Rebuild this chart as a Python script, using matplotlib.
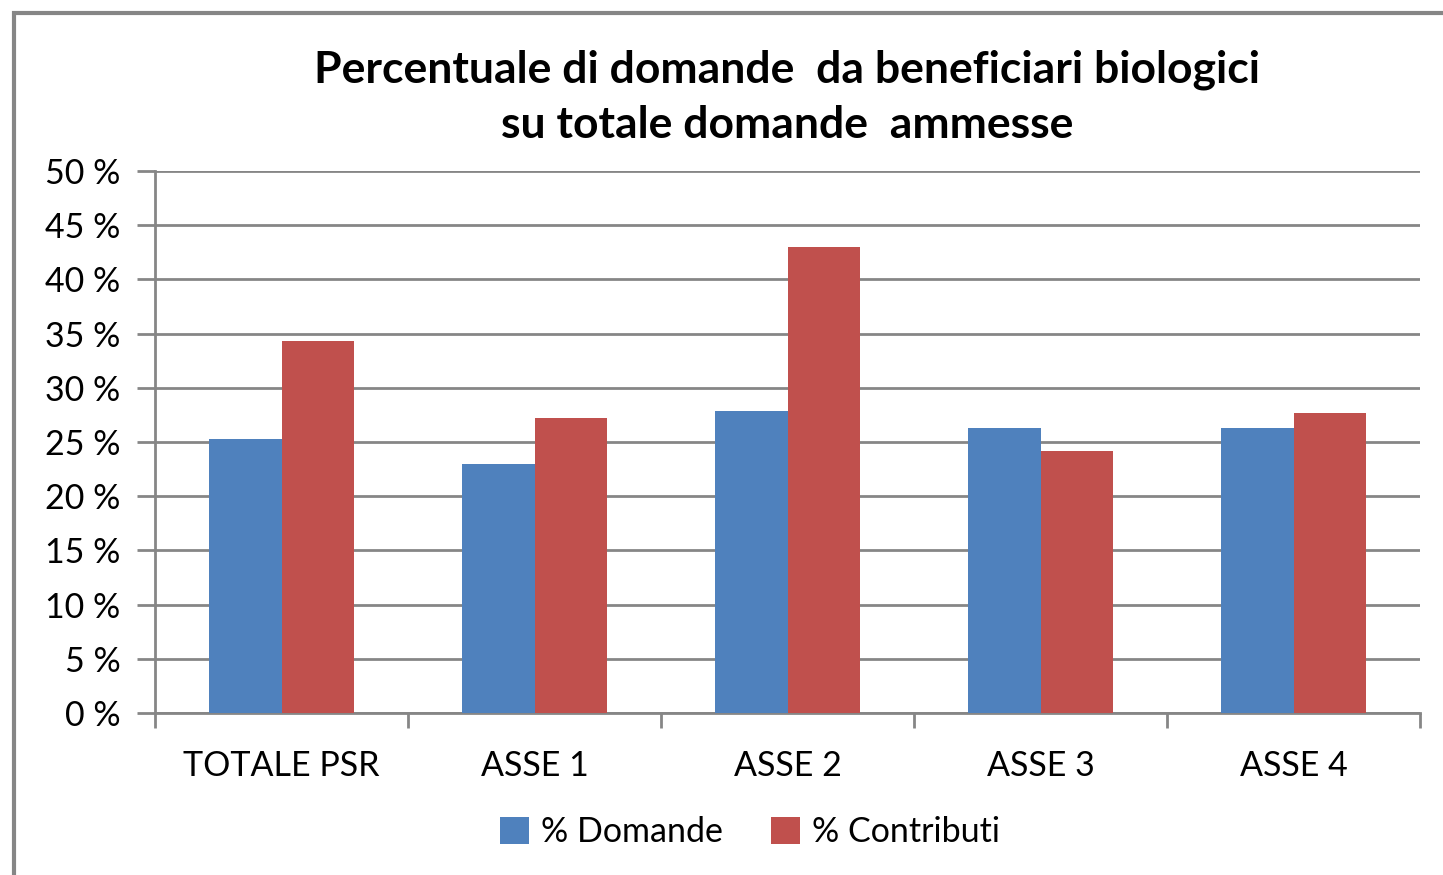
import matplotlib
matplotlib.use("Agg")
import matplotlib.pyplot as plt
import numpy as np
from matplotlib.patches import Rectangle

categories = ["TOTALE PSR", "ASSE 1", "ASSE 2", "ASSE 3", "ASSE 4"]
domande = [25.3, 23.0, 27.9, 26.3, 26.3]
contributi = [34.3, 27.2, 43.0, 24.2, 27.7]
series_names = ["% Domande", "% Contributi"]
yticks = [0, 5, 10, 15, 20, 25, 30, 35, 40, 45, 50]
ytick_labels = [f"{v} %" for v in yticks]
title = "Percentuale di domande  da beneficiari biologici\nsu totale domande  ammesse"

BLUE = "#4F81BD"
RED = "#C0504D"
GRID = "#868686"

plt.rcParams['font.family'] = ['Lato', 'DejaVu Sans']

fig = plt.figure(figsize=(14.43, 8.75), dpi=100)
# outer chart frame
fig.add_artist(Rectangle((14/1443, -0.05), 1.1, 1 - 13/875 + 0.05, transform=fig.transFigure,
                         fill=False, edgecolor=GRID, linewidth=3))

ax = fig.add_axes([155/1443, 1 - 713/875, (1420-155)/1443, (713-171)/875])
x = np.arange(len(categories))
w = 0.285
ax.bar(x - w/2, domande, width=w, color=BLUE, label=series_names[0], zorder=3)
ax.bar(x + w/2, contributi, width=w, color=RED, label=series_names[1], zorder=3)

ax.set_xlim(-0.5, len(categories) - 0.5)
ax.set_ylim(0, 50)
ax.set_yticks(yticks)
ax.set_yticklabels(ytick_labels, fontsize=24.5, color="#000000")
ax.yaxis.grid(True, color=GRID, linewidth=2, zorder=0)
ax.set_axisbelow(True)

ax.set_xticks(x)
ax.set_xticklabels(categories, fontsize=24.5)
ax.tick_params(axis='x', length=0, pad=27)
# category boundary tick marks
ax.set_xticks(np.arange(-0.5, len(categories)), minor=True)
ax.tick_params(axis='x', which='minor', length=11, width=2, color=GRID, direction='out')
ax.tick_params(axis='y', length=13, width=2, color=GRID, direction='out', pad=12)

for s in ['top', 'right']:
    ax.spines[s].set_visible(False)
for s in ['left', 'bottom']:
    ax.spines[s].set_color(GRID)
    ax.spines[s].set_linewidth(2)

fig.text(787/1443, 1 - 97/875, title, ha='center', va='center', fontsize=32,
         fontweight='bold', linespacing=1.45)

leg = fig.legend(loc='center', bbox_to_anchor=(750/1443, 1 - 832/875), ncol=2, frameon=False,
                 fontsize=24.5, handlelength=0.85, handleheight=0.85, handletextpad=0.35,
                 columnspacing=1.4)

fig.savefig("out.png", dpi=100)
